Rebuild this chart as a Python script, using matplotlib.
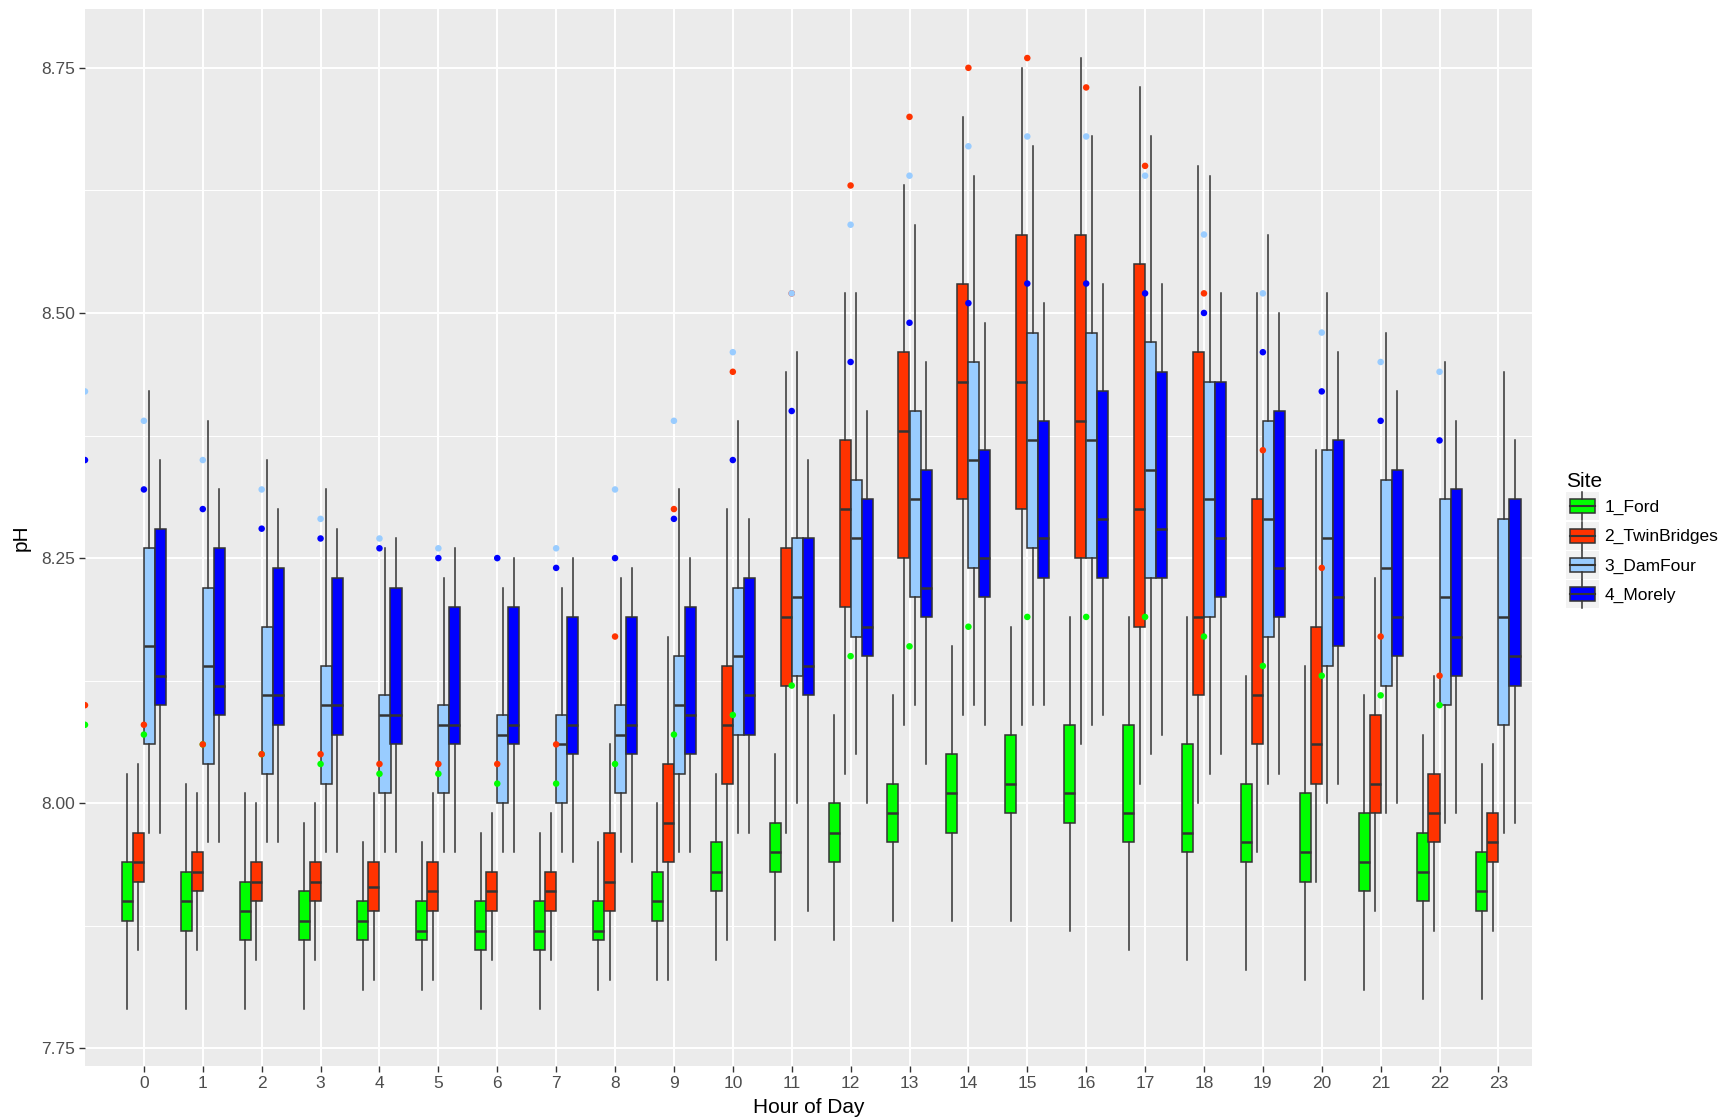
import numpy as np
import matplotlib.pyplot as plt
from matplotlib.patches import Patch, Rectangle
from matplotlib.lines import Line2D
from matplotlib.legend_handler import HandlerBase
from matplotlib.ticker import MultipleLocator, FormatStrFormatter

plt.rcParams['font.family'] = ['Liberation Sans', 'DejaVu Sans']

hours = list(range(24))
sites = ['1_Ford', '2_TwinBridges', '3_DamFour', '4_Morely']
site_colors = ['#00FF00', '#FF3300', '#99CCFF', '#0000FF']

# box summaries per hour: whisker low, Q1, median, Q3, whisker high
ford_lo = [7.79, 7.79, 7.79, 7.79, 7.81, 7.81, 7.79, 7.79, 7.81, 7.82, 7.84, 7.86,
           7.86, 7.88, 7.88, 7.88, 7.87, 7.85, 7.84, 7.83, 7.82, 7.81, 7.80, 7.80]
ford_q1 = [7.88, 7.87, 7.86, 7.86, 7.86, 7.86, 7.85, 7.85, 7.86, 7.88, 7.91, 7.93,
           7.94, 7.96, 7.97, 7.99, 7.98, 7.96, 7.95, 7.94, 7.92, 7.91, 7.90, 7.89]
ford_med = [7.90, 7.90, 7.89, 7.88, 7.88, 7.87, 7.87, 7.87, 7.87, 7.90, 7.93, 7.95,
            7.97, 7.99, 8.01, 8.02, 8.01, 7.99, 7.97, 7.96, 7.95, 7.94, 7.93, 7.91]
ford_q3 = [7.94, 7.93, 7.92, 7.91, 7.90, 7.90, 7.90, 7.90, 7.90, 7.93, 7.96, 7.98,
           8.00, 8.02, 8.05, 8.07, 8.08, 8.08, 8.06, 8.02, 8.01, 7.99, 7.97, 7.95]
ford_hi = [8.03, 8.02, 8.01, 7.98, 7.96, 7.96, 7.97, 7.97, 7.96, 8.00, 8.03, 8.05,
           8.09, 8.11, 8.16, 8.18, 8.19, 8.19, 8.19, 8.13, 8.14, 8.11, 8.07, 8.04]

twin_lo = [7.85, 7.85, 7.84, 7.84, 7.82, 7.82, 7.84, 7.84, 7.82, 7.82, 7.86, 7.97,
           8.03, 8.08, 8.09, 8.08, 8.06, 8.02, 8.00, 7.95, 7.92, 7.89, 7.87, 7.87]
twin_q1 = [7.92, 7.91, 7.90, 7.90, 7.89, 7.89, 7.89, 7.89, 7.89, 7.94, 8.02, 8.12,
           8.20, 8.25, 8.31, 8.30, 8.25, 8.18, 8.11, 8.06, 8.02, 7.99, 7.96, 7.94]
twin_med = [7.94, 7.93, 7.92, 7.92, 7.915, 7.91, 7.91, 7.91, 7.92, 7.98, 8.08, 8.19,
            8.30, 8.38, 8.43, 8.43, 8.39, 8.30, 8.19, 8.11, 8.06, 8.02, 7.99, 7.96]
twin_q3 = [7.97, 7.95, 7.94, 7.94, 7.94, 7.94, 7.93, 7.93, 7.97, 8.04, 8.14, 8.26,
           8.37, 8.46, 8.53, 8.58, 8.58, 8.55, 8.46, 8.31, 8.18, 8.09, 8.03, 7.99]
twin_hi = [8.04, 8.01, 8.00, 8.00, 8.01, 8.01, 7.99, 7.99, 8.06, 8.17, 8.30, 8.44,
           8.52, 8.63, 8.70, 8.75, 8.76, 8.73, 8.65, 8.52, 8.36, 8.23, 8.13, 8.06]

dam_lo = [7.97, 7.96, 7.96, 7.95, 7.95, 7.95, 7.95, 7.95, 7.95, 7.95, 7.97, 8.00,
          8.05, 8.10, 8.10, 8.10, 8.08, 8.05, 8.03, 8.02, 8.00, 7.99, 7.98, 7.97]
dam_q1 = [8.06, 8.04, 8.03, 8.02, 8.01, 8.01, 8.00, 8.00, 8.01, 8.03, 8.07, 8.13,
          8.17, 8.21, 8.24, 8.26, 8.25, 8.23, 8.19, 8.17, 8.14, 8.12, 8.10, 8.08]
dam_med = [8.16, 8.14, 8.11, 8.10, 8.09, 8.08, 8.07, 8.06, 8.07, 8.10, 8.15, 8.21,
           8.27, 8.31, 8.35, 8.37, 8.37, 8.34, 8.31, 8.29, 8.27, 8.24, 8.21, 8.19]
dam_q3 = [8.26, 8.22, 8.18, 8.14, 8.11, 8.10, 8.09, 8.09, 8.10, 8.15, 8.22, 8.27,
          8.33, 8.40, 8.45, 8.48, 8.48, 8.47, 8.43, 8.39, 8.36, 8.33, 8.31, 8.29]
dam_hi = [8.42, 8.39, 8.35, 8.32, 8.26, 8.23, 8.22, 8.22, 8.23, 8.32, 8.39, 8.46,
          8.52, 8.59, 8.64, 8.67, 8.68, 8.68, 8.64, 8.58, 8.52, 8.48, 8.45, 8.44]

morely_lo = [7.97, 7.96, 7.96, 7.95, 7.95, 7.95, 7.95, 7.94, 7.94, 7.95, 7.97, 7.89,
             8.00, 8.04, 8.08, 8.10, 8.09, 8.07, 8.05, 8.03, 8.02, 8.00, 7.99, 7.98]
morely_q1 = [8.10, 8.09, 8.08, 8.07, 8.06, 8.06, 8.06, 8.05, 8.05, 8.05, 8.07, 8.11,
             8.15, 8.19, 8.21, 8.23, 8.23, 8.23, 8.21, 8.19, 8.16, 8.15, 8.13, 8.12]
morely_med = [8.13, 8.12, 8.11, 8.10, 8.09, 8.08, 8.08, 8.08, 8.08, 8.09, 8.11, 8.14,
              8.18, 8.22, 8.25, 8.27, 8.29, 8.28, 8.27, 8.24, 8.21, 8.19, 8.17, 8.15]
morely_q3 = [8.28, 8.26, 8.24, 8.23, 8.22, 8.20, 8.20, 8.19, 8.19, 8.20, 8.23, 8.27,
             8.31, 8.34, 8.36, 8.39, 8.42, 8.44, 8.43, 8.40, 8.37, 8.34, 8.32, 8.31]
morely_hi = [8.35, 8.32, 8.30, 8.28, 8.27, 8.26, 8.25, 8.25, 8.24, 8.25, 8.29, 8.35,
             8.40, 8.45, 8.49, 8.51, 8.53, 8.53, 8.52, 8.50, 8.46, 8.42, 8.39, 8.37]

# single points, plotted at hours -1 .. 22
point_hours = list(range(-1, 23))
ford_pts = [8.08, 8.07, 8.06, 8.05, 8.04, 8.03, 8.03, 8.02, 8.02, 8.04, 8.07, 8.09,
            8.12, 8.15, 8.16, 8.18, 8.19, 8.19, 8.19, 8.17, 8.14, 8.13, 8.11, 8.10]
twin_pts = [8.10, 8.08, 8.06, 8.05, 8.05, 8.04, 8.04, 8.04, 8.06, 8.17, 8.30, 8.44,
            8.52, 8.63, 8.70, 8.75, 8.76, 8.73, 8.65, 8.52, 8.36, 8.24, 8.17, 8.13]
dam_pts = [8.42, 8.39, 8.35, 8.32, 8.29, 8.27, 8.26, 8.25, 8.26, 8.32, 8.39, 8.46,
           8.52, 8.59, 8.64, 8.67, 8.68, 8.68, 8.64, 8.58, 8.52, 8.48, 8.45, 8.44]
morely_pts = [8.35, 8.32, 8.30, 8.28, 8.27, 8.26, 8.25, 8.25, 8.24, 8.25, 8.29, 8.35,
              8.40, 8.45, 8.49, 8.51, 8.53, 8.53, 8.52, 8.50, 8.46, 8.42, 8.39, 8.37]

box_data = [
    (ford_lo, ford_q1, ford_med, ford_q3, ford_hi),
    (twin_lo, twin_q1, twin_med, twin_q3, twin_hi),
    (dam_lo, dam_q1, dam_med, dam_q3, dam_hi),
    (morely_lo, morely_q1, morely_med, morely_q3, morely_hi),
]
point_data = [ford_pts, twin_pts, dam_pts, morely_pts]

edge = '#333333'


class BoxKey(HandlerBase):
    # legend key: grey square with a small boxplot glyph
    def create_artists(self, legend, orig_handle, xdescent, ydescent,
                       width, height, fontsize, trans):
        x0, y0 = -xdescent, -ydescent
        cx = x0 + width / 2
        bg = Rectangle((x0, y0), width, height, facecolor='#F2F2F2',
                       edgecolor='none', transform=trans)
        box = Rectangle((x0 + 0.11 * width, y0 + 0.25 * height), 0.78 * width,
                        0.5 * height, facecolor=orig_handle.get_facecolor(),
                        edgecolor=edge, lw=1.1, transform=trans)
        lo = Line2D([cx, cx], [y0, y0 + 0.25 * height], color=edge, lw=1.1,
                    transform=trans)
        hi = Line2D([cx, cx], [y0 + 0.75 * height, y0 + height], color=edge,
                    lw=1.1, transform=trans)
        med = Line2D([x0 + 0.11 * width, x0 + 0.89 * width],
                     [y0 + height / 2] * 2, color=edge, lw=1.5, transform=trans)
        return [bg, box, lo, hi, med]


fig = plt.figure(figsize=(17.28, 11.17), dpi=100)
ax = fig.add_axes([85 / 1728, 1 - 1066 / 1117, (1532 - 85) / 1728, (1066 - 9) / 1117])
ax.set_facecolor('#EBEBEB')
for s in ax.spines.values():
    s.set_visible(False)

dodge = [-0.281, -0.094, 0.094, 0.281]
for (lo, q1, med, q3, hi), off, col in zip(box_data, dodge, site_colors):
    stats = [dict(whislo=a, q1=b, med=c, q3=d, whishi=e)
             for a, b, c, d, e in zip(lo, q1, med, q3, hi)]
    ax.bxp(stats, positions=np.array(hours) + off, widths=0.1875,
           patch_artist=True, showfliers=False, showcaps=False,
           manage_ticks=False,
           boxprops=dict(facecolor=col, edgecolor=edge, linewidth=1.1),
           medianprops=dict(color=edge, linewidth=1.8),
           whiskerprops=dict(color=edge, linewidth=1.1))

for pts, col in zip(point_data, site_colors):
    ax.scatter(point_hours, pts, s=22, color=col, edgecolors='none', zorder=4)

ax.set_xlim(-1.0, 23.57)
ax.set_ylim(7.732, 8.81)
ax.set_xticks(hours)
ax.set_xticklabels([str(h) for h in hours])
ax.yaxis.set_major_locator(MultipleLocator(0.25))
ax.yaxis.set_minor_locator(MultipleLocator(0.125))
ax.yaxis.set_major_formatter(FormatStrFormatter('%.2f'))
ax.set_axisbelow(True)
ax.grid(which='major', color='white', linewidth=1.4)
ax.grid(which='minor', axis='y', color='white', linewidth=0.7)
ax.tick_params(which='major', length=4, width=1, color='#333333',
               labelcolor='#4D4D4D', labelsize=12.5, pad=3)
ax.tick_params(which='minor', length=0)

ax.set_xlabel('Hour of Day', fontsize=15, labelpad=5)
ax.set_ylabel('pH', fontsize=15, labelpad=8)

handles = [Patch(facecolor=c) for c in site_colors]
fig.legend(handles, sites, handler_map={Patch: BoxKey()}, title='Site',
           loc='upper left', bbox_to_anchor=(1566 / 1728, 1 - 472 / 1117),
           frameon=False, fontsize=12.5, title_fontsize=15,
           handlelength=1.9, handleheight=2.1, labelspacing=0.08,
           handletextpad=0.3, borderpad=0, borderaxespad=0, alignment='left')

fig.savefig('out.png', dpi=100)
